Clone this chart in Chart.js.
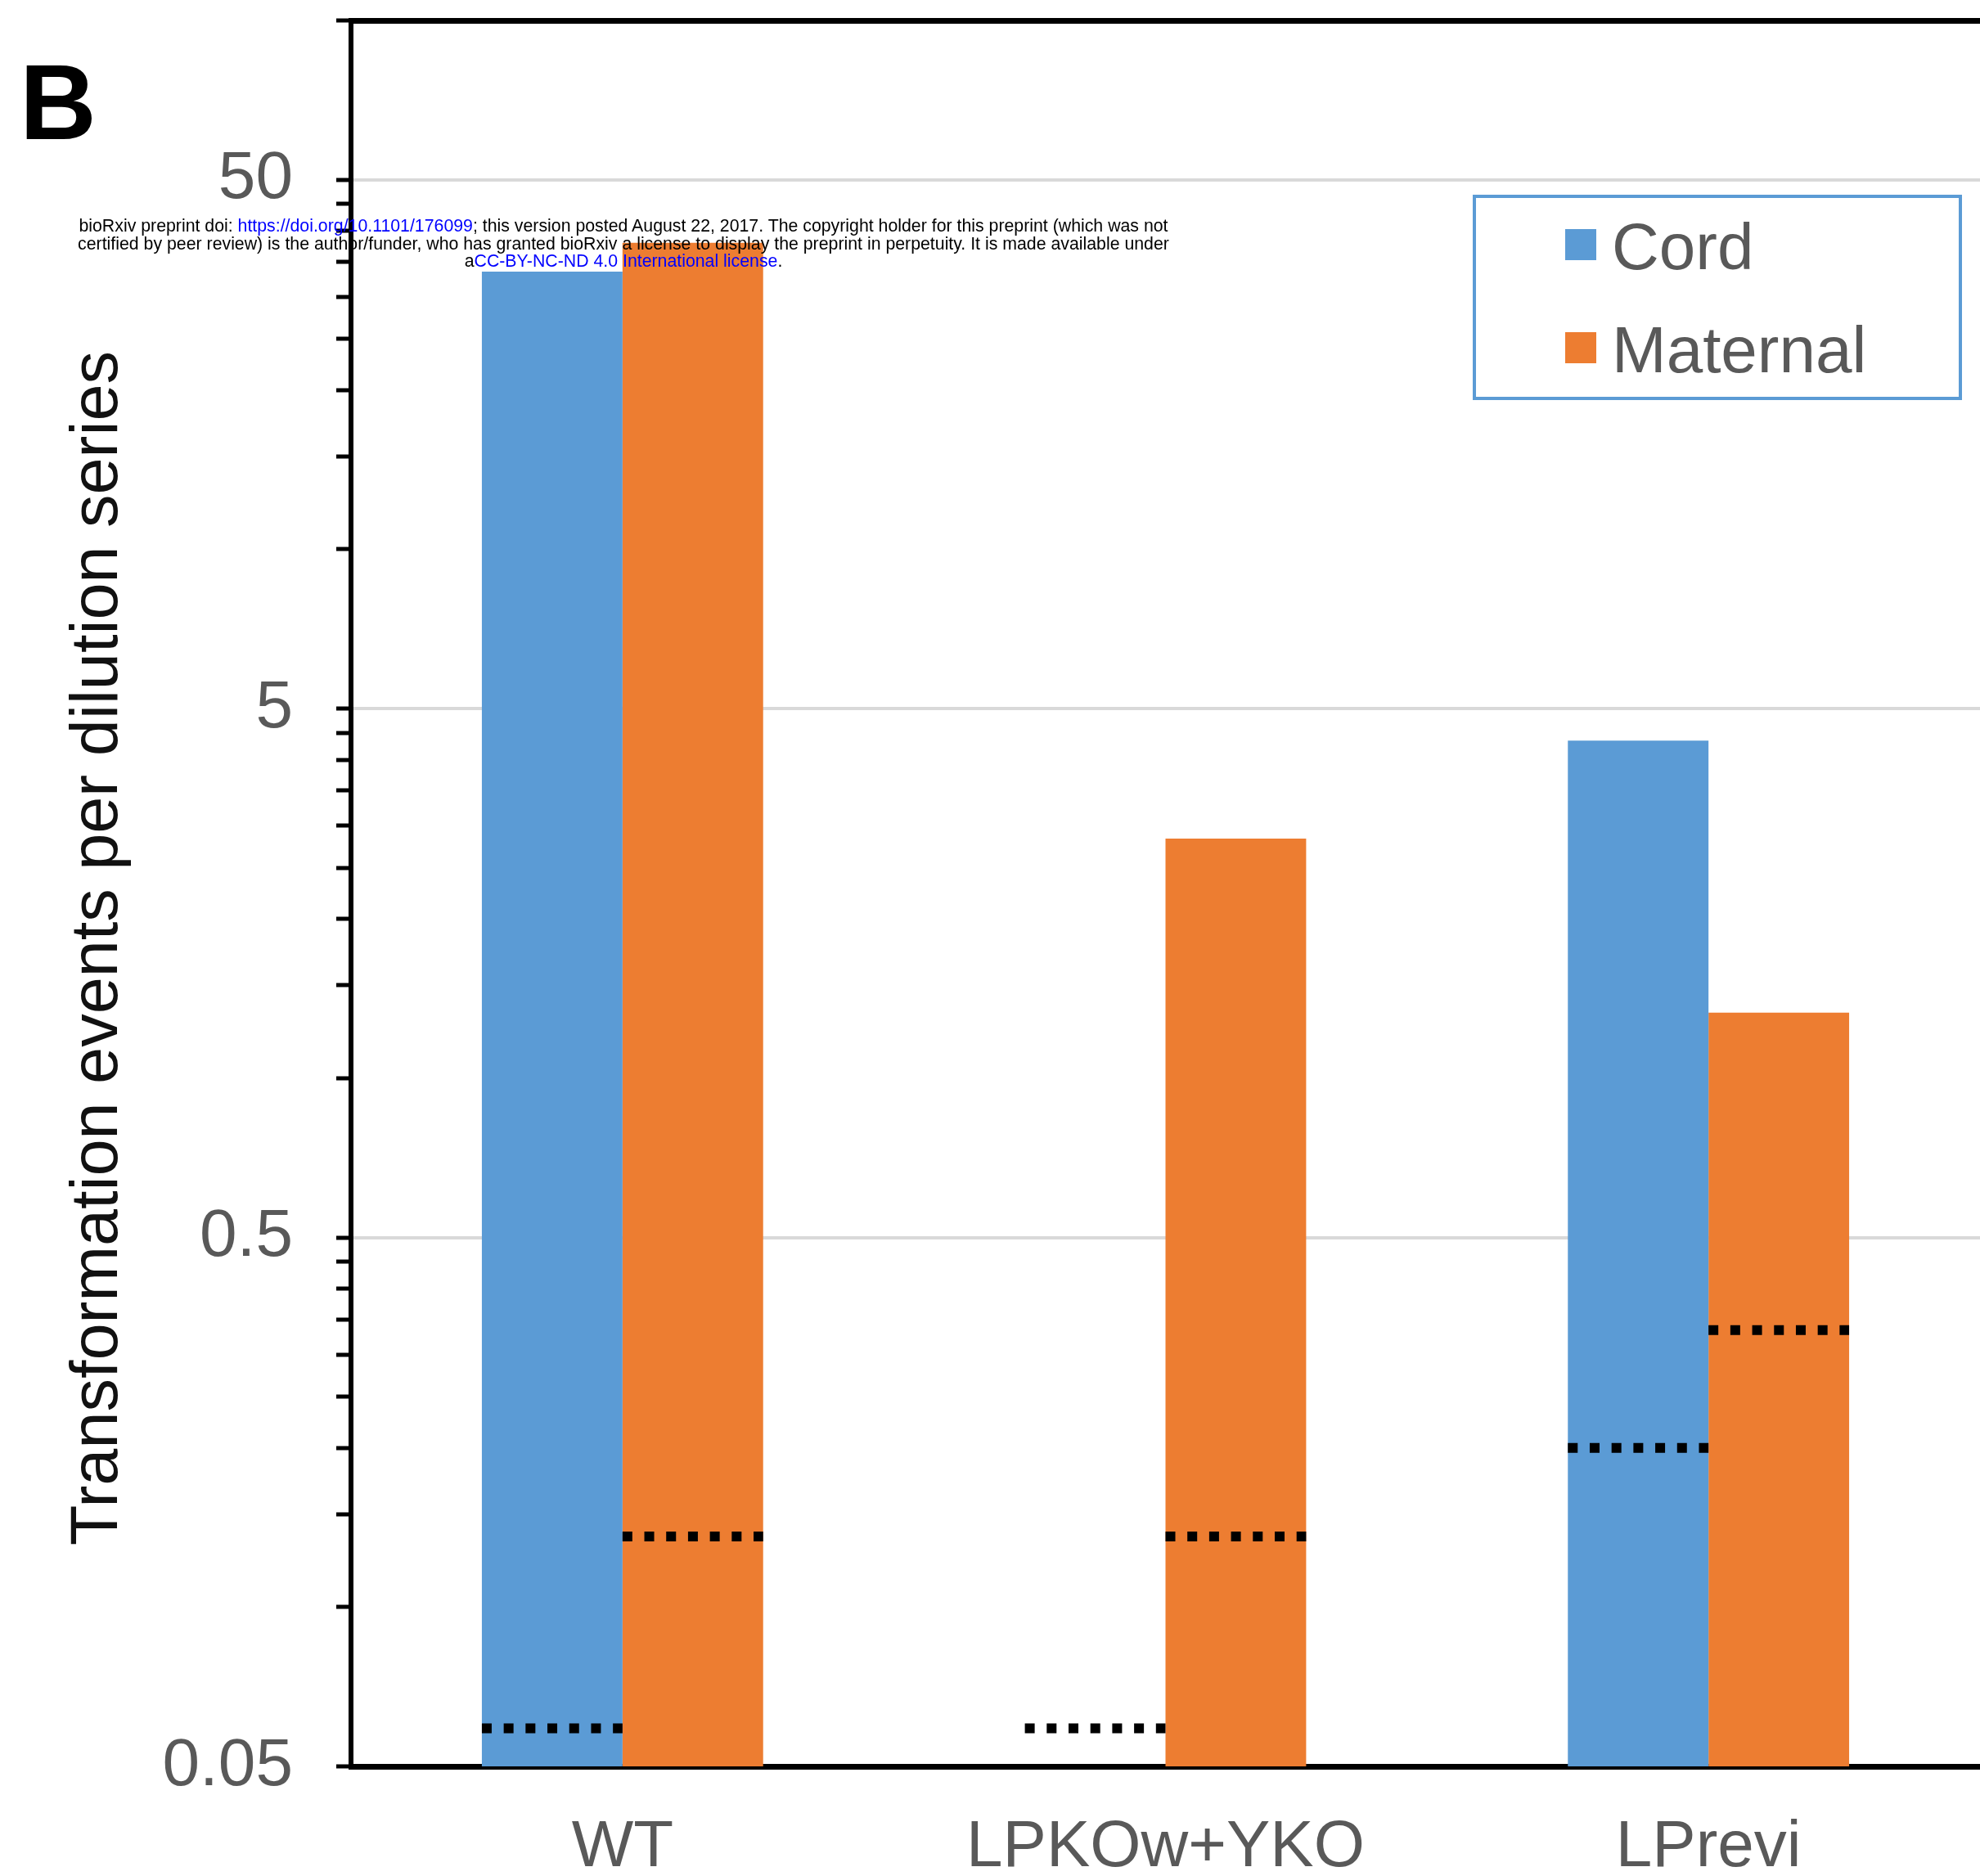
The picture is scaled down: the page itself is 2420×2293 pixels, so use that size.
<!DOCTYPE html>
<html>
<head>
<meta charset="utf-8">
<script src="https://cdn.jsdelivr.net/npm/chart.js@4.4.1/dist/chart.umd.min.js"></script>
<style>
  html, body { margin: 0; padding: 0; background: #fff; overflow: hidden; }
  #wrap { position: relative; width: 2420px; height: 2293px; }
  #chart { display: block; }
  #panel { position: absolute; left: 24px; top: 59px; font: bold 130px "Liberation Sans", Arial, sans-serif; line-height: 132px; color: #000; }
  #notice { position: absolute; left: 12px; top: 266px; width: 1500px; text-align: center;
            font: 21.3px "Liberation Sans", Arial, sans-serif; line-height: 21.5px; color: #000; z-index: 2; }
  #notice span { color: #0000ff; }
</style>
</head>
<body>
<div id="wrap">
  <canvas id="chart" width="2420" height="2293"></canvas>
  <div id="panel">B</div>
  <div id="notice">bioRxiv preprint doi: <span>https://doi.org/10.1101/176099</span>; this version posted August 22, 2017. The copyright holder for this preprint (which was not<br>certified by peer review) is the author/funder, who has granted bioRxiv a license to display the preprint in perpetuity. It is made available under<br>a<span>CC-BY-NC-ND 4.0 International license</span>.</div>
</div>
<script>
const categories = ['WT', 'LPKOw+YKO', 'LPrevi'];
const cordValues = [33.5, null, 4.35];
const maternalValues = [38, 2.84, 1.33];
// detection limits, drawn as dotted lines across the bars
const cordLimits = [0.059, 0.059, 0.2];
const maternalLimits = [0.136, 0.136, 0.334];

const majorTicks = [0.05, 0.5, 5, 50];
const majorLabels = ['0.05', '0.5', '5', '50'];
const minorSteps = [2, 3, 4, 5, 6, 7, 8, 9];
const axisMin = 0.05;
const axisMax = 100;

Chart.defaults.font.family = '"Liberation Sans", Arial, sans-serif';

function majorIndex(v) {
    return majorTicks.findIndex(m => Math.abs(m - v) / m < 1e-6);
}

function logTicks() {
    const vals = [];
    majorTicks.forEach(m => {
        vals.push(m);
        minorSteps.forEach(k => vals.push(+(m * k).toPrecision(6)));
    });
    return vals.filter(v => v <= axisMax + 1e-9);
}

const limitLines = {
    id: 'limitLines',
    afterDatasetsDraw(chart) {
        const ctx = chart.ctx;
        const yScale = chart.scales.y;
        [cordLimits, maternalLimits].forEach((limits, di) => {
            const meta = chart.getDatasetMeta(di);
            ctx.save();
            ctx.strokeStyle = '#000';
            ctx.lineWidth = 12;
            ctx.setLineDash([12, 14.7]);
            limits.forEach((v, i) => {
                const bar = meta.data[i];
                if (v == null || !bar) return;
                const py = yScale.getPixelForValue(v);
                const half = bar.width / 2;
                ctx.beginPath();
                ctx.moveTo(bar.x - half, py);
                ctx.lineTo(bar.x + half, py);
                ctx.stroke();
            });
            ctx.restore();
        });
    }
};

const boxLegend = {
    id: 'boxLegend',
    afterDraw(chart, args, opts) {
        const ctx = chart.ctx;
        ctx.save();
        ctx.strokeStyle = '#5b9bd5';
        ctx.lineWidth = 4;
        ctx.strokeRect(opts.left, opts.top, opts.width, opts.height);
        ctx.font = '80px "Liberation Sans", Arial, sans-serif';
        ctx.textBaseline = 'middle';
        chart.data.datasets.forEach((ds, i) => {
            const cy = opts.firstRow + i * opts.rowGap;
            ctx.fillStyle = ds.backgroundColor;
            ctx.fillRect(opts.swatchX, cy - 19, 38, 38);
            ctx.fillStyle = '#595959';
            ctx.fillText(ds.label, opts.textX, cy + 8);
        });
        ctx.restore();
    }
};

const yTitle = {
    id: 'yTitle',
    afterDraw(chart) {
        const ctx = chart.ctx;
        ctx.save();
        ctx.translate(143, 1159);
        ctx.rotate(-Math.PI / 2);
        ctx.font = '81px "Liberation Sans", Arial, sans-serif';
        ctx.fillStyle = '#111';
        ctx.textAlign = 'center';
        ctx.textBaseline = 'alphabetic';
        ctx.fillText('Transformation events per dilution series', 0, 0);
        ctx.restore();
    }
};

new Chart(document.getElementById('chart'), {
    type: 'bar',
    data: {
        labels: categories,
        datasets: [
            { label: 'Cord', data: cordValues, backgroundColor: '#5b9bd5', categoryPercentage: 0.518, barPercentage: 1 },
            { label: 'Maternal', data: maternalValues, backgroundColor: '#ed7d31', categoryPercentage: 0.518, barPercentage: 1 }
        ]
    },
    options: {
        responsive: false,
        animation: false,
        devicePixelRatio: 1,
        layout: { padding: { top: 25, left: 0, right: 0, bottom: 0 } },
        plugins: {
            legend: { display: false },
            tooltip: { enabled: false },
            boxLegend: { left: 1802, top: 240, width: 594, height: 247, swatchX: 1913, textX: 1970, firstRow: 299, rowGap: 126 }
        },
        scales: {
            x: {
                z: 1,
                grid: { color: 'rgba(0,0,0,0)', drawTicks: false },
                border: { color: '#000', width: 7 },
                ticks: { color: '#595959', font: { size: 80 }, padding: 52 },
                afterFit: s => { s.height = 134; s.paddingLeft = 0; s.paddingRight = 0; }
            },
            x2: {
                position: 'top',
                grid: { display: false },
                ticks: { display: false },
                border: { color: '#000', width: 7 },
                afterFit: s => { s.height = 0; }
            },
            y: {
                type: 'logarithmic',
                min: axisMin,
                max: axisMax,
                afterBuildTicks: s => { s.ticks = logTicks().map(v => ({ value: v })); },
                ticks: {
                    autoSkip: false,
                    color: '#595959',
                    font: { size: 82 },
                    padding: 53,
                    callback: v => { const i = majorIndex(v); return i >= 0 ? majorLabels[i] : ''; }
                },
                grid: {
                    color: c => (c.tick && majorIndex(c.tick.value) >= 0) ? '#d9d9d9' : 'rgba(0,0,0,0)',
                    lineWidth: 4,
                    tickColor: '#000',
                    tickLength: 18,
                    tickWidth: 5
                },
                border: { color: '#000', width: 6 },
                afterFit: s => { s.width = 429; s.paddingTop = 0; s.paddingBottom = 0; }
            }
        }
    },
    plugins: [limitLines, boxLegend, yTitle]
});
</script>
</body>
</html>
